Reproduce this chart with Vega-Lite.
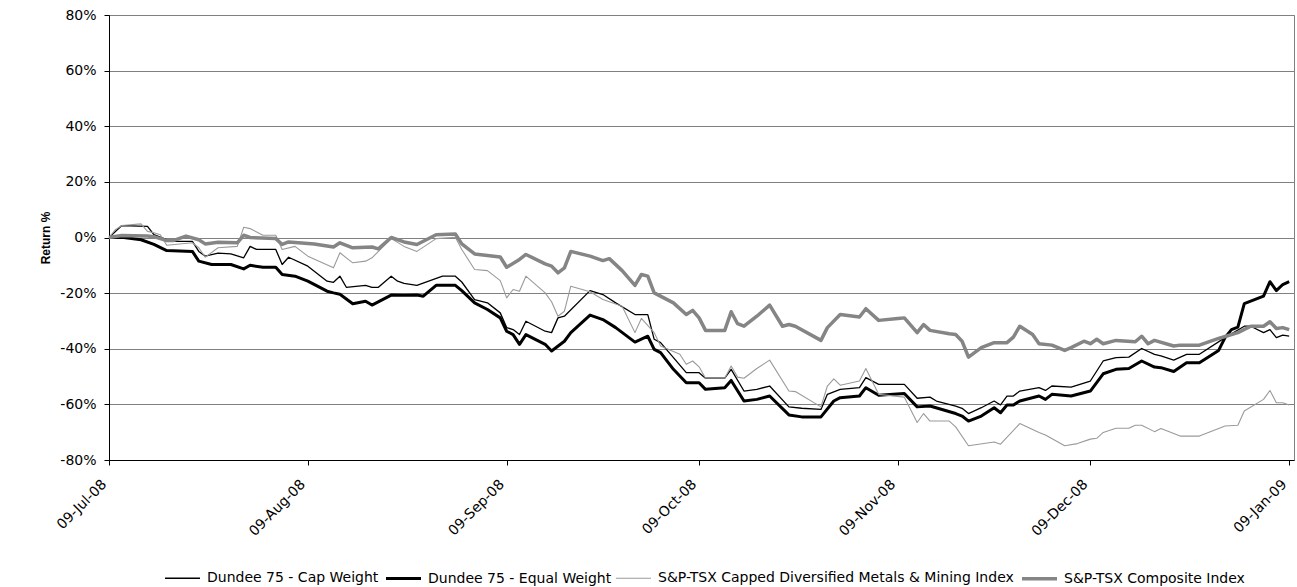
{
  "$schema": "https://vega.github.io/schema/vega-lite/v6.json",
  "width": 1185,
  "height": 445,
  "autosize": {"type": "none"},
  "padding": {"left": 109, "top": 15, "right": 3, "bottom": 127},
  "background": "white",
  "config": {"view": {"stroke": "#808080", "strokeWidth": 1}, "font": "DejaVu Sans"},
  "data": {"values": [
    {"s":"Cap","d":"2008-07-09","v":0},{"s":"Cap","d":"2008-07-11","v":4.3},{"s":"Cap","d":"2008-07-15","v":4.0},{"s":"Cap","d":"2008-07-16","v":1.0},{"s":"Cap","d":"2008-07-18","v":-0.8},{"s":"Cap","d":"2008-07-19","v":-1.4},{"s":"Cap","d":"2008-07-22","v":-1.4},{"s":"Cap","d":"2008-07-23","v":-5.0},{"s":"Cap","d":"2008-07-24","v":-6.7},{"s":"Cap","d":"2008-07-26","v":-5.6},{"s":"Cap","d":"2008-07-28","v":-5.9},{"s":"Cap","d":"2008-07-30","v":-7.3},{"s":"Cap","d":"2008-07-31","v":-3.2},{"s":"Cap","d":"2008-08-01","v":-4.3},{"s":"Cap","d":"2008-08-04","v":-4.3},{"s":"Cap","d":"2008-08-05","v":-9.7},{"s":"Cap","d":"2008-08-06","v":-7.1},{"s":"Cap","d":"2008-08-09","v":-10.3},{"s":"Cap","d":"2008-08-12","v":-15.7},{"s":"Cap","d":"2008-08-13","v":-16.1},{"s":"Cap","d":"2008-08-14","v":-13.9},{"s":"Cap","d":"2008-08-15","v":-17.9},{"s":"Cap","d":"2008-08-18","v":-17.2},{"s":"Cap","d":"2008-08-19","v":-17.9},{"s":"Cap","d":"2008-08-20","v":-17.9},{"s":"Cap","d":"2008-08-22","v":-13.9},{"s":"Cap","d":"2008-08-23","v":-15.7},{"s":"Cap","d":"2008-08-24","v":-16.5},{"s":"Cap","d":"2008-08-26","v":-17.2},{"s":"Cap","d":"2008-08-30","v":-13.9},{"s":"Cap","d":"2008-09-01","v":-13.9},{"s":"Cap","d":"2008-09-02","v":-16.0},{"s":"Cap","d":"2008-09-04","v":-22.3},{"s":"Cap","d":"2008-09-06","v":-23.5},{"s":"Cap","d":"2008-09-08","v":-27.1},{"s":"Cap","d":"2008-09-09","v":-32.4},{"s":"Cap","d":"2008-09-10","v":-33.1},{"s":"Cap","d":"2008-09-11","v":-34.9},{"s":"Cap","d":"2008-09-12","v":-30.1},{"s":"Cap","d":"2008-09-15","v":-33.7},{"s":"Cap","d":"2008-09-16","v":-34.2},{"s":"Cap","d":"2008-09-17","v":-28.9},{"s":"Cap","d":"2008-09-18","v":-28.3},{"s":"Cap","d":"2008-09-22","v":-19.1},{"s":"Cap","d":"2008-09-24","v":-20.5},{"s":"Cap","d":"2008-09-26","v":-23.5},{"s":"Cap","d":"2008-09-29","v":-27.7},{"s":"Cap","d":"2008-10-01","v":-27.7},{"s":"Cap","d":"2008-10-02","v":-36.6},{"s":"Cap","d":"2008-10-03","v":-37.8},{"s":"Cap","d":"2008-10-05","v":-43.2},{"s":"Cap","d":"2008-10-07","v":-48.6},{"s":"Cap","d":"2008-10-09","v":-48.6},{"s":"Cap","d":"2008-10-10","v":-50.6},{"s":"Cap","d":"2008-10-13","v":-50.6},{"s":"Cap","d":"2008-10-14","v":-47.4},{"s":"Cap","d":"2008-10-16","v":-55.2},{"s":"Cap","d":"2008-10-18","v":-54.6},{"s":"Cap","d":"2008-10-20","v":-53.4},{"s":"Cap","d":"2008-10-23","v":-60.9},{"s":"Cap","d":"2008-10-25","v":-61.4},{"s":"Cap","d":"2008-10-28","v":-61.8},{"s":"Cap","d":"2008-10-29","v":-56.4},{"s":"Cap","d":"2008-10-31","v":-54.6},{"s":"Cap","d":"2008-11-03","v":-54.0},{"s":"Cap","d":"2008-11-04","v":-50.4},{"s":"Cap","d":"2008-11-06","v":-52.8},{"s":"Cap","d":"2008-11-10","v":-52.8},{"s":"Cap","d":"2008-11-12","v":-57.8},{"s":"Cap","d":"2008-11-14","v":-57.4},{"s":"Cap","d":"2008-11-15","v":-58.8},{"s":"Cap","d":"2008-11-18","v":-60.6},{"s":"Cap","d":"2008-11-19","v":-61.4},{"s":"Cap","d":"2008-11-20","v":-63.3},{"s":"Cap","d":"2008-11-22","v":-61.2},{"s":"Cap","d":"2008-11-24","v":-58.8},{"s":"Cap","d":"2008-11-25","v":-60.2},{"s":"Cap","d":"2008-11-26","v":-57.0},{"s":"Cap","d":"2008-11-27","v":-57.0},{"s":"Cap","d":"2008-11-28","v":-55.2},{"s":"Cap","d":"2008-12-01","v":-54.0},{"s":"Cap","d":"2008-12-02","v":-55.0},{"s":"Cap","d":"2008-12-03","v":-53.4},{"s":"Cap","d":"2008-12-06","v":-53.8},{"s":"Cap","d":"2008-12-09","v":-51.6},{"s":"Cap","d":"2008-12-11","v":-44.4},{"s":"Cap","d":"2008-12-13","v":-43.2},{"s":"Cap","d":"2008-12-15","v":-43.0},{"s":"Cap","d":"2008-12-17","v":-39.9},{"s":"Cap","d":"2008-12-19","v":-42.0},{"s":"Cap","d":"2008-12-20","v":-42.6},{"s":"Cap","d":"2008-12-22","v":-44.1},{"s":"Cap","d":"2008-12-24","v":-42.0},{"s":"Cap","d":"2008-12-26","v":-42.0},{"s":"Cap","d":"2008-12-30","v":-36.0},{"s":"Cap","d":"2009-01-02","v":-31.9},{"s":"Cap","d":"2009-01-03","v":-31.9},{"s":"Cap","d":"2009-01-05","v":-34.2},{"s":"Cap","d":"2009-01-06","v":-33.1},{"s":"Cap","d":"2009-01-07","v":-36.0},{"s":"Cap","d":"2009-01-08","v":-35.1},{"s":"Cap","d":"2009-01-09","v":-35.5},

    {"s":"Equal","d":"2008-07-09","v":0},{"s":"Equal","d":"2008-07-11","v":0.1},{"s":"Equal","d":"2008-07-14","v":-0.8},{"s":"Equal","d":"2008-07-16","v":-2.5},{"s":"Equal","d":"2008-07-18","v":-4.7},{"s":"Equal","d":"2008-07-22","v":-5.0},{"s":"Equal","d":"2008-07-23","v":-8.5},{"s":"Equal","d":"2008-07-25","v":-9.7},{"s":"Equal","d":"2008-07-28","v":-9.7},{"s":"Equal","d":"2008-07-30","v":-11.3},{"s":"Equal","d":"2008-07-31","v":-10.0},{"s":"Equal","d":"2008-08-02","v":-10.7},{"s":"Equal","d":"2008-08-04","v":-10.7},{"s":"Equal","d":"2008-08-05","v":-13.3},{"s":"Equal","d":"2008-08-07","v":-13.9},{"s":"Equal","d":"2008-08-09","v":-15.7},{"s":"Equal","d":"2008-08-12","v":-19.3},{"s":"Equal","d":"2008-08-13","v":-19.9},{"s":"Equal","d":"2008-08-14","v":-20.4},{"s":"Equal","d":"2008-08-16","v":-23.8},{"s":"Equal","d":"2008-08-18","v":-22.9},{"s":"Equal","d":"2008-08-19","v":-24.3},{"s":"Equal","d":"2008-08-22","v":-20.7},{"s":"Equal","d":"2008-08-24","v":-20.8},{"s":"Equal","d":"2008-08-26","v":-20.7},{"s":"Equal","d":"2008-08-27","v":-21.1},{"s":"Equal","d":"2008-08-29","v":-17.2},{"s":"Equal","d":"2008-09-01","v":-17.2},{"s":"Equal","d":"2008-09-02","v":-19.1},{"s":"Equal","d":"2008-09-04","v":-23.5},{"s":"Equal","d":"2008-09-06","v":-25.9},{"s":"Equal","d":"2008-09-08","v":-28.9},{"s":"Equal","d":"2008-09-09","v":-33.7},{"s":"Equal","d":"2008-09-10","v":-34.9},{"s":"Equal","d":"2008-09-11","v":-38.4},{"s":"Equal","d":"2008-09-12","v":-34.9},{"s":"Equal","d":"2008-09-15","v":-38.4},{"s":"Equal","d":"2008-09-16","v":-40.8},{"s":"Equal","d":"2008-09-18","v":-37.3},{"s":"Equal","d":"2008-09-19","v":-34.2},{"s":"Equal","d":"2008-09-22","v":-27.9},{"s":"Equal","d":"2008-09-24","v":-29.5},{"s":"Equal","d":"2008-09-26","v":-32.4},{"s":"Equal","d":"2008-09-29","v":-37.6},{"s":"Equal","d":"2008-10-01","v":-35.5},{"s":"Equal","d":"2008-10-02","v":-40.2},{"s":"Equal","d":"2008-10-03","v":-41.4},{"s":"Equal","d":"2008-10-05","v":-47.4},{"s":"Equal","d":"2008-10-07","v":-52.2},{"s":"Equal","d":"2008-10-09","v":-52.2},{"s":"Equal","d":"2008-10-10","v":-54.6},{"s":"Equal","d":"2008-10-13","v":-54.0},{"s":"Equal","d":"2008-10-14","v":-51.4},{"s":"Equal","d":"2008-10-16","v":-58.8},{"s":"Equal","d":"2008-10-18","v":-58.2},{"s":"Equal","d":"2008-10-20","v":-57.0},{"s":"Equal","d":"2008-10-23","v":-63.8},{"s":"Equal","d":"2008-10-25","v":-64.5},{"s":"Equal","d":"2008-10-28","v":-64.5},{"s":"Equal","d":"2008-10-30","v":-58.8},{"s":"Equal","d":"2008-10-31","v":-57.6},{"s":"Equal","d":"2008-11-03","v":-57.0},{"s":"Equal","d":"2008-11-04","v":-54.0},{"s":"Equal","d":"2008-11-06","v":-56.7},{"s":"Equal","d":"2008-11-10","v":-56.1},{"s":"Equal","d":"2008-11-12","v":-60.9},{"s":"Equal","d":"2008-11-14","v":-60.6},{"s":"Equal","d":"2008-11-18","v":-63.3},{"s":"Equal","d":"2008-11-19","v":-64.2},{"s":"Equal","d":"2008-11-20","v":-66.0},{"s":"Equal","d":"2008-11-22","v":-64.2},{"s":"Equal","d":"2008-11-24","v":-61.2},{"s":"Equal","d":"2008-11-25","v":-63.0},{"s":"Equal","d":"2008-11-26","v":-60.2},{"s":"Equal","d":"2008-11-27","v":-60.2},{"s":"Equal","d":"2008-11-28","v":-58.8},{"s":"Equal","d":"2008-12-01","v":-57.0},{"s":"Equal","d":"2008-12-02","v":-58.2},{"s":"Equal","d":"2008-12-03","v":-56.4},{"s":"Equal","d":"2008-12-06","v":-57.0},{"s":"Equal","d":"2008-12-09","v":-55.2},{"s":"Equal","d":"2008-12-11","v":-49.0},{"s":"Equal","d":"2008-12-13","v":-47.4},{"s":"Equal","d":"2008-12-15","v":-47.1},{"s":"Equal","d":"2008-12-17","v":-44.4},{"s":"Equal","d":"2008-12-19","v":-46.6},{"s":"Equal","d":"2008-12-20","v":-46.8},{"s":"Equal","d":"2008-12-22","v":-48.2},{"s":"Equal","d":"2008-12-24","v":-45.0},{"s":"Equal","d":"2008-12-26","v":-45.0},{"s":"Equal","d":"2008-12-29","v":-40.6},{"s":"Equal","d":"2008-12-30","v":-36.0},{"s":"Equal","d":"2008-12-31","v":-33.1},{"s":"Equal","d":"2009-01-01","v":-32.2},{"s":"Equal","d":"2009-01-02","v":-23.8},{"s":"Equal","d":"2009-01-05","v":-21.1},{"s":"Equal","d":"2009-01-06","v":-15.9},{"s":"Equal","d":"2009-01-07","v":-19.1},{"s":"Equal","d":"2009-01-08","v":-16.9},{"s":"Equal","d":"2009-01-09","v":-15.9},

    {"s":"Metals","d":"2008-07-09","v":0},{"s":"Metals","d":"2008-07-10","v":2.8},{"s":"Metals","d":"2008-07-11","v":4.3},{"s":"Metals","d":"2008-07-14","v":4.9},{"s":"Metals","d":"2008-07-15","v":2.2},{"s":"Metals","d":"2008-07-16","v":1.7},{"s":"Metals","d":"2008-07-17","v":1.0},{"s":"Metals","d":"2008-07-18","v":-2.8},{"s":"Metals","d":"2008-07-22","v":-1.9},{"s":"Metals","d":"2008-07-23","v":-3.7},{"s":"Metals","d":"2008-07-24","v":-7.1},{"s":"Metals","d":"2008-07-26","v":-3.7},{"s":"Metals","d":"2008-07-29","v":-3.2},{"s":"Metals","d":"2008-07-30","v":3.7},{"s":"Metals","d":"2008-07-31","v":3.2},{"s":"Metals","d":"2008-08-02","v":0.8},{"s":"Metals","d":"2008-08-04","v":0.8},{"s":"Metals","d":"2008-08-05","v":-4.3},{"s":"Metals","d":"2008-08-07","v":-3.2},{"s":"Metals","d":"2008-08-09","v":-6.7},{"s":"Metals","d":"2008-08-13","v":-10.9},{"s":"Metals","d":"2008-08-14","v":-5.5},{"s":"Metals","d":"2008-08-16","v":-9.1},{"s":"Metals","d":"2008-08-18","v":-8.5},{"s":"Metals","d":"2008-08-19","v":-7.3},{"s":"Metals","d":"2008-08-22","v":-0.4},{"s":"Metals","d":"2008-08-24","v":-3.2},{"s":"Metals","d":"2008-08-26","v":-5.0},{"s":"Metals","d":"2008-08-29","v":-0.4},{"s":"Metals","d":"2008-09-01","v":0.1},{"s":"Metals","d":"2008-09-02","v":-4.3},{"s":"Metals","d":"2008-09-04","v":-11.5},{"s":"Metals","d":"2008-09-06","v":-11.9},{"s":"Metals","d":"2008-09-08","v":-15.5},{"s":"Metals","d":"2008-09-09","v":-21.7},{"s":"Metals","d":"2008-09-10","v":-18.7},{"s":"Metals","d":"2008-09-11","v":-19.3},{"s":"Metals","d":"2008-09-12","v":-13.9},{"s":"Metals","d":"2008-09-15","v":-19.9},{"s":"Metals","d":"2008-09-16","v":-23.1},{"s":"Metals","d":"2008-09-17","v":-28.3},{"s":"Metals","d":"2008-09-18","v":-26.5},{"s":"Metals","d":"2008-09-19","v":-17.5},{"s":"Metals","d":"2008-09-22","v":-19.5},{"s":"Metals","d":"2008-09-24","v":-22.3},{"s":"Metals","d":"2008-09-27","v":-24.7},{"s":"Metals","d":"2008-09-29","v":-34.2},{"s":"Metals","d":"2008-09-30","v":-29.1},{"s":"Metals","d":"2008-10-02","v":-34.2},{"s":"Metals","d":"2008-10-03","v":-39.0},{"s":"Metals","d":"2008-10-06","v":-42.0},{"s":"Metals","d":"2008-10-07","v":-45.6},{"s":"Metals","d":"2008-10-08","v":-44.4},{"s":"Metals","d":"2008-10-09","v":-46.5},{"s":"Metals","d":"2008-10-10","v":-50.6},{"s":"Metals","d":"2008-10-13","v":-50.6},{"s":"Metals","d":"2008-10-14","v":-46.2},{"s":"Metals","d":"2008-10-15","v":-50.2},{"s":"Metals","d":"2008-10-16","v":-50.6},{"s":"Metals","d":"2008-10-18","v":-47.1},{"s":"Metals","d":"2008-10-20","v":-44.1},{"s":"Metals","d":"2008-10-23","v":-55.2},{"s":"Metals","d":"2008-10-24","v":-55.4},{"s":"Metals","d":"2008-10-28","v":-60.9},{"s":"Metals","d":"2008-10-29","v":-53.4},{"s":"Metals","d":"2008-10-30","v":-50.8},{"s":"Metals","d":"2008-10-31","v":-53.1},{"s":"Metals","d":"2008-11-03","v":-51.6},{"s":"Metals","d":"2008-11-04","v":-47.1},{"s":"Metals","d":"2008-11-06","v":-56.4},{"s":"Metals","d":"2008-11-10","v":-57.4},{"s":"Metals","d":"2008-11-12","v":-66.5},{"s":"Metals","d":"2008-11-13","v":-63.3},{"s":"Metals","d":"2008-11-14","v":-66.0},{"s":"Metals","d":"2008-11-17","v":-66.0},{"s":"Metals","d":"2008-11-18","v":-68.1},{"s":"Metals","d":"2008-11-20","v":-74.9},{"s":"Metals","d":"2008-11-24","v":-73.5},{"s":"Metals","d":"2008-11-25","v":-74.3},{"s":"Metals","d":"2008-11-28","v":-66.9},{"s":"Metals","d":"2008-12-01","v":-70.1},{"s":"Metals","d":"2008-12-02","v":-71.0},{"s":"Metals","d":"2008-12-05","v":-74.9},{"s":"Metals","d":"2008-12-07","v":-74.1},{"s":"Metals","d":"2008-12-09","v":-72.5},{"s":"Metals","d":"2008-12-10","v":-72.2},{"s":"Metals","d":"2008-12-11","v":-70.1},{"s":"Metals","d":"2008-12-13","v":-68.6},{"s":"Metals","d":"2008-12-15","v":-68.6},{"s":"Metals","d":"2008-12-16","v":-67.5},{"s":"Metals","d":"2008-12-17","v":-67.5},{"s":"Metals","d":"2008-12-19","v":-69.8},{"s":"Metals","d":"2008-12-20","v":-68.7},{"s":"Metals","d":"2008-12-23","v":-71.4},{"s":"Metals","d":"2008-12-26","v":-71.4},{"s":"Metals","d":"2008-12-30","v":-67.8},{"s":"Metals","d":"2009-01-01","v":-67.5},{"s":"Metals","d":"2009-01-02","v":-62.4},{"s":"Metals","d":"2009-01-05","v":-58.2},{"s":"Metals","d":"2009-01-06","v":-55.0},{"s":"Metals","d":"2009-01-07","v":-59.4},{"s":"Metals","d":"2009-01-08","v":-59.4},{"s":"Metals","d":"2009-01-09","v":-60.2},

    {"s":"Composite","d":"2008-07-09","v":0},{"s":"Composite","d":"2008-07-11","v":0.7},{"s":"Composite","d":"2008-07-15","v":0.5},{"s":"Composite","d":"2008-07-16","v":0.3},{"s":"Composite","d":"2008-07-18","v":-1.1},{"s":"Composite","d":"2008-07-19","v":-1.1},{"s":"Composite","d":"2008-07-21","v":0.5},{"s":"Composite","d":"2008-07-23","v":-0.8},{"s":"Composite","d":"2008-07-24","v":-2.3},{"s":"Composite","d":"2008-07-26","v":-1.7},{"s":"Composite","d":"2008-07-29","v":-1.9},{"s":"Composite","d":"2008-07-30","v":0.8},{"s":"Composite","d":"2008-07-31","v":0.0},{"s":"Composite","d":"2008-08-04","v":-0.4},{"s":"Composite","d":"2008-08-05","v":-2.5},{"s":"Composite","d":"2008-08-06","v":-1.6},{"s":"Composite","d":"2008-08-10","v":-2.3},{"s":"Composite","d":"2008-08-13","v":-3.4},{"s":"Composite","d":"2008-08-14","v":-1.9},{"s":"Composite","d":"2008-08-16","v":-3.7},{"s":"Composite","d":"2008-08-19","v":-3.4},{"s":"Composite","d":"2008-08-20","v":-4.1},{"s":"Composite","d":"2008-08-22","v":0.0},{"s":"Composite","d":"2008-08-24","v":-1.6},{"s":"Composite","d":"2008-08-26","v":-2.5},{"s":"Composite","d":"2008-08-29","v":1.0},{"s":"Composite","d":"2008-09-01","v":1.3},{"s":"Composite","d":"2008-09-02","v":-2.3},{"s":"Composite","d":"2008-09-04","v":-5.9},{"s":"Composite","d":"2008-09-08","v":-7.0},{"s":"Composite","d":"2008-09-09","v":-10.7},{"s":"Composite","d":"2008-09-11","v":-7.9},{"s":"Composite","d":"2008-09-12","v":-6.1},{"s":"Composite","d":"2008-09-15","v":-9.5},{"s":"Composite","d":"2008-09-16","v":-10.3},{"s":"Composite","d":"2008-09-17","v":-12.7},{"s":"Composite","d":"2008-09-18","v":-10.9},{"s":"Composite","d":"2008-09-19","v":-5.0},{"s":"Composite","d":"2008-09-22","v":-6.7},{"s":"Composite","d":"2008-09-24","v":-8.3},{"s":"Composite","d":"2008-09-25","v":-7.6},{"s":"Composite","d":"2008-09-27","v":-11.9},{"s":"Composite","d":"2008-09-29","v":-17.2},{"s":"Composite","d":"2008-09-30","v":-13.3},{"s":"Composite","d":"2008-10-01","v":-13.9},{"s":"Composite","d":"2008-10-02","v":-19.9},{"s":"Composite","d":"2008-10-05","v":-23.5},{"s":"Composite","d":"2008-10-07","v":-27.7},{"s":"Composite","d":"2008-10-08","v":-26.2},{"s":"Composite","d":"2008-10-09","v":-28.9},{"s":"Composite","d":"2008-10-10","v":-33.4},{"s":"Composite","d":"2008-10-13","v":-33.4},{"s":"Composite","d":"2008-10-14","v":-26.7},{"s":"Composite","d":"2008-10-15","v":-31.0},{"s":"Composite","d":"2008-10-16","v":-31.9},{"s":"Composite","d":"2008-10-18","v":-28.3},{"s":"Composite","d":"2008-10-20","v":-24.3},{"s":"Composite","d":"2008-10-22","v":-31.9},{"s":"Composite","d":"2008-10-23","v":-31.3},{"s":"Composite","d":"2008-10-24","v":-31.9},{"s":"Composite","d":"2008-10-28","v":-37.0},{"s":"Composite","d":"2008-10-29","v":-32.4},{"s":"Composite","d":"2008-10-31","v":-27.7},{"s":"Composite","d":"2008-11-03","v":-28.6},{"s":"Composite","d":"2008-11-04","v":-25.6},{"s":"Composite","d":"2008-11-06","v":-29.8},{"s":"Composite","d":"2008-11-09","v":-29.1},{"s":"Composite","d":"2008-11-10","v":-28.9},{"s":"Composite","d":"2008-11-12","v":-34.2},{"s":"Composite","d":"2008-11-13","v":-31.3},{"s":"Composite","d":"2008-11-14","v":-33.4},{"s":"Composite","d":"2008-11-17","v":-34.6},{"s":"Composite","d":"2008-11-18","v":-34.9},{"s":"Composite","d":"2008-11-19","v":-37.3},{"s":"Composite","d":"2008-11-20","v":-43.0},{"s":"Composite","d":"2008-11-22","v":-39.6},{"s":"Composite","d":"2008-11-24","v":-37.8},{"s":"Composite","d":"2008-11-26","v":-37.8},{"s":"Composite","d":"2008-11-27","v":-35.8},{"s":"Composite","d":"2008-11-28","v":-31.9},{"s":"Composite","d":"2008-11-30","v":-34.9},{"s":"Composite","d":"2008-12-01","v":-38.2},{"s":"Composite","d":"2008-12-03","v":-38.7},{"s":"Composite","d":"2008-12-05","v":-40.6},{"s":"Composite","d":"2008-12-06","v":-39.6},{"s":"Composite","d":"2008-12-08","v":-37.3},{"s":"Composite","d":"2008-12-09","v":-38.2},{"s":"Composite","d":"2008-12-10","v":-36.6},{"s":"Composite","d":"2008-12-11","v":-38.2},{"s":"Composite","d":"2008-12-13","v":-37.0},{"s":"Composite","d":"2008-12-16","v":-37.5},{"s":"Composite","d":"2008-12-17","v":-35.5},{"s":"Composite","d":"2008-12-18","v":-38.2},{"s":"Composite","d":"2008-12-19","v":-37.0},{"s":"Composite","d":"2008-12-22","v":-39.0},{"s":"Composite","d":"2008-12-23","v":-38.7},{"s":"Composite","d":"2008-12-26","v":-38.7},{"s":"Composite","d":"2008-12-29","v":-36.3},{"s":"Composite","d":"2009-01-01","v":-34.2},{"s":"Composite","d":"2009-01-03","v":-31.9},{"s":"Composite","d":"2009-01-05","v":-31.9},{"s":"Composite","d":"2009-01-06","v":-30.3},{"s":"Composite","d":"2009-01-07","v":-32.7},{"s":"Composite","d":"2009-01-08","v":-32.4},{"s":"Composite","d":"2009-01-09","v":-33.1}
  ]},
  "mark": {"type": "line", "strokeJoin": "round", "strokeCap": "butt"},
  "encoding": {
    "x": {
      "field": "d", "type": "temporal",
      "scale": {"type": "utc", "domain": [{"year": 2008, "month": 7, "date": 9, "utc": true}, {"year": 2009, "month": 1, "date": 9, "hours": 18, "utc": true}]},
      "axis": {
        "values": [
          {"year": 2008, "month": 7, "date": 9, "utc": true},
          {"year": 2008, "month": 8, "date": 9, "utc": true},
          {"year": 2008, "month": 9, "date": 9, "utc": true},
          {"year": 2008, "month": 10, "date": 9, "utc": true},
          {"year": 2008, "month": 11, "date": 9, "utc": true},
          {"year": 2008, "month": 12, "date": 9, "utc": true},
          {"year": 2009, "month": 1, "date": 9, "utc": true}
        ],
        "format": "%d-%b-%y", "labelAngle": -45, "grid": false, "title": null,
        "domainColor": "#000000", "domainWidth": 1, "tickColor": "#000000", "tickSize": 5,
        "labelFont": "DejaVu Sans", "labelFontSize": 14, "labelColor": "#000000", "labelPadding": 12, "labelOffset": -10, "labelBound": false, "labelOverlap": false
      }
    },
    "y": {
      "field": "v", "type": "quantitative",
      "scale": {"domain": [-80, 80], "nice": false},
      "axis": {
        "values": [-80, -60, -40, -20, 0, 20, 40, 60, 80],
        "labelExpr": "(datum.value < 0 ? '-' : '') + abs(datum.value) + '%'",
        "title": "Return %", "titleFont": "Liberation Sans", "titleFontSize": 12, "titleFontWeight": "bold", "titleColor": "#000000", "titlePadding": 7,
        "grid": true, "gridColor": "#808080", "gridWidth": 1,
        "domainColor": "#000000", "domainWidth": 1, "tickColor": "#000000", "tickSize": 5,
        "labelFont": "DejaVu Sans", "labelFontSize": 14, "labelColor": "#000000", "labelPadding": 8
      }
    },
    "color": {
      "field": "s", "type": "nominal",
      "scale": {"domain": ["Cap", "Equal", "Metals", "Composite"], "range": ["#000000", "#000000", "#9a9a9a", "#858585"]},
      "legend": {
        "orient": "none", "legendX": 54, "legendY": 544, "direction": "horizontal", "columns": 4, "title": null,
        "symbolType": "stroke", "symbolSize": 1225, "labelFont": "DejaVu Sans", "labelFontSize": 14, "labelColor": "#000000", "labelLimit": 0,
        "labelOffset": 5, "columnPadding": 1, "padding": 0,
        "labelExpr": "datum.label == 'Cap' ? 'Dundee 75 - Cap Weight' : datum.label == 'Equal' ? 'Dundee 75 - Equal Weight' : datum.label == 'Metals' ? 'S&P-TSX Capped Diversified Metals & Mining Index' : 'S&P-TSX Composite Index'"
      }
    },
    "strokeWidth": {
      "field": "s", "type": "nominal",
      "scale": {"type": "ordinal", "domain": ["Cap", "Equal", "Metals", "Composite"], "range": [1.3, 3, 1.1, 3.5]},
      "legend": {
        "orient": "none", "legendX": 54, "legendY": 544, "direction": "horizontal", "columns": 4, "title": null,
        "symbolType": "stroke", "symbolSize": 1225, "labelFont": "DejaVu Sans", "labelFontSize": 14, "labelColor": "#000000", "labelLimit": 0,
        "labelOffset": 5, "columnPadding": 1, "padding": 0,
        "labelExpr": "datum.label == 'Cap' ? 'Dundee 75 - Cap Weight' : datum.label == 'Equal' ? 'Dundee 75 - Equal Weight' : datum.label == 'Metals' ? 'S&P-TSX Capped Diversified Metals & Mining Index' : 'S&P-TSX Composite Index'"
      }
    }
  }
}
